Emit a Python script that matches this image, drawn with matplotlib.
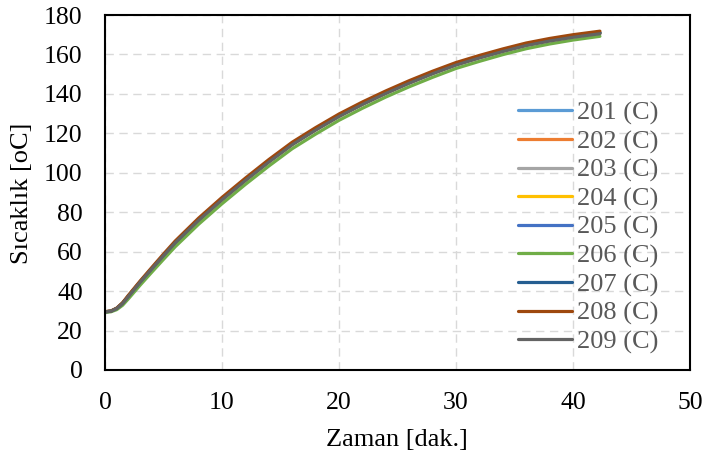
import matplotlib
matplotlib.use("Agg")
import matplotlib.pyplot as plt

plt.rcParams['font.family'] = ['Liberation Serif', 'DejaVu Serif']

# time axis [min]
zaman = [0, 0.5, 1, 1.5, 2, 3, 4, 5, 6, 8, 10, 12, 14, 16, 18, 20, 22, 24, 26, 28, 30, 32, 34, 36, 38, 40, 42.3]

s201 = [29.5, 29.8, 31.2, 33.8, 37.4, 44.6, 51.4, 58.1, 64.6, 76.1, 86.6, 96.4, 105.8, 114.6, 122.0, 128.9, 135.0, 140.6, 145.8, 150.6, 155.0, 158.6, 161.9, 164.9, 167.2, 169.0, 170.9]
s202 = [29.5, 29.8, 31.2, 33.8, 37.5, 44.7, 51.5, 58.2, 64.8, 76.3, 86.8, 96.6, 106.0, 114.8, 122.2, 129.1, 135.2, 140.8, 146.0, 150.8, 155.2, 158.8, 162.1, 165.1, 167.4, 169.3, 171.1]
s203 = [29.5, 29.8, 31.2, 33.7, 37.3, 44.5, 51.3, 58.0, 64.5, 76.0, 86.5, 96.3, 105.7, 114.5, 121.9, 128.8, 134.9, 140.5, 145.7, 150.5, 154.9, 158.5, 161.8, 164.8, 167.1, 169.0, 170.8]
s204 = [29.5, 29.8, 31.2, 33.7, 37.3, 44.5, 51.3, 58.0, 64.5, 76.0, 86.4, 96.2, 105.6, 114.4, 121.8, 128.7, 134.8, 140.4, 145.6, 150.4, 154.8, 158.4, 161.7, 164.7, 167.0, 168.9, 170.7]
s205 = [29.5, 29.8, 31.2, 33.8, 37.4, 44.6, 51.4, 58.1, 64.6, 76.1, 86.6, 96.4, 105.8, 114.6, 122.0, 128.9, 135.0, 140.6, 145.8, 150.6, 155.0, 158.6, 161.9, 164.9, 167.2, 169.1, 170.9]
s206 = [29.3, 29.5, 30.6, 32.8, 36.1, 43.0, 49.6, 56.1, 62.5, 73.9, 84.3, 94.1, 103.4, 112.2, 119.6, 126.6, 132.7, 138.4, 143.6, 148.4, 152.9, 156.5, 159.9, 162.9, 165.3, 167.3, 169.2]
s207 = [29.5, 29.8, 31.2, 33.8, 37.4, 44.6, 51.4, 58.1, 64.7, 76.2, 86.7, 96.5, 105.9, 114.7, 122.1, 129.0, 135.1, 140.7, 145.9, 150.7, 155.1, 158.7, 162.0, 165.0, 167.3, 169.2, 171.0]
s208 = [29.6, 29.9, 31.4, 34.1, 37.9, 45.1, 52.0, 58.8, 65.4, 77.0, 87.5, 97.3, 106.7, 115.5, 122.9, 129.8, 135.9, 141.5, 146.7, 151.5, 155.9, 159.5, 162.8, 165.8, 168.1, 170.0, 171.8]
s209 = [29.5, 29.8, 31.2, 33.7, 37.3, 44.5, 51.3, 58.0, 64.5, 75.9, 86.3, 96.1, 105.4, 114.2, 121.6, 128.5, 134.6, 140.2, 145.4, 150.2, 154.6, 158.2, 161.5, 164.5, 166.8, 168.7, 170.5]

seri_adlari = ['201 (C)', '202 (C)', '203 (C)', '204 (C)', '205 (C)', '206 (C)', '207 (C)', '208 (C)', '209 (C)']
seriler = [s201, s202, s203, s204, s205, s206, s207, s208, s209]
renkler = ['#5B9BD5', '#ED7D31', '#A5A5A5', '#FFC000', '#4472C4', '#70AD47', '#255E91', '#9E480E', '#636363']

xticks = [0, 10, 20, 30, 40, 50]
yticks = [0, 20, 40, 60, 80, 100, 120, 140, 160, 180]

fig = plt.figure(figsize=(7.05, 4.59), dpi=100)
ax = fig.add_axes([105/705, 1-370/459, 585/705, 355/459])

for ad, seri, renk in zip(seri_adlari, seriler, renkler):
    ax.plot(zaman, seri, color=renk, lw=2.3, label=ad, solid_capstyle='round')

ax.set_xlim(0, 50)
ax.set_ylim(0, 180)
ax.set_xticks(xticks)
ax.set_yticks(yticks)
ax.tick_params(length=0, labelsize=18.5)
ax.tick_params(axis='y', pad=16)
ax.tick_params(axis='x', pad=16)
ax.grid(True, color='#d9d9d9', lw=1.0, ls=(0, (6, 4)))
ax.set_axisbelow(True)
for sp in ax.spines.values():
    sp.set_color('black')
    sp.set_linewidth(1.5)

ax.set_xlabel('Zaman [dak.]', fontsize=19)
ax.set_ylabel('Sıcaklık [oC]', fontsize=19)
ax.xaxis.set_label_coords(397/705, 1-440/459, transform=fig.transFigure)
ax.yaxis.set_label_coords(22/705, 1-193/459, transform=fig.transFigure)
ax.xaxis.label.set_va('center')
ax.yaxis.label.set_va('center')

leg = ax.legend(loc='upper left', bbox_to_anchor=(518/705, 1-101/459), bbox_transform=fig.transFigure,
                frameon=False, fontsize=19, handlelength=2.05, handletextpad=0.2,
                labelspacing=0.18, borderaxespad=0, borderpad=0)
for t in leg.get_texts():
    t.set_color('#595959')

fig.savefig('out.png', dpi=100)
